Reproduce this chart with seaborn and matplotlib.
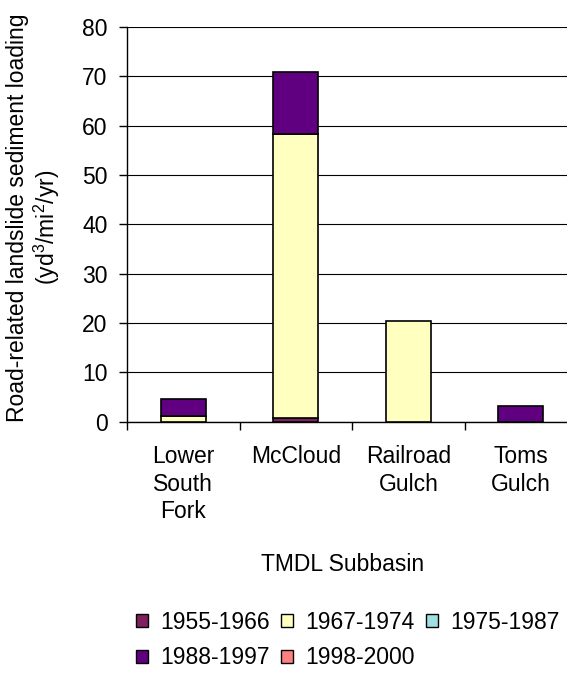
import matplotlib
matplotlib.use("Agg")
import matplotlib.pyplot as plt
from matplotlib.patches import Patch
import seaborn as sns
import pandas as pd

categories = ["Lower\nSouth\nFork", "McCloud", "Railroad\nGulch", "Toms\nGulch"]
periods = ["1955-1966", "1967-1974", "1975-1987", "1988-1997", "1998-2000"]
v_1955_1966 = [0.0, 0.7, 0.0, 0.0]
v_1967_1974 = [1.2, 57.6, 20.4, 0.0]
v_1975_1987 = [0.0, 0.0, 0.0, 0.0]
v_1988_1997 = [3.5, 12.6, 0.0, 3.2]
v_1998_2000 = [0.0, 0.0, 0.0, 0.0]
y_ticks = [0, 10, 20, 30, 40, 50, 60, 70, 80]

colors = ["#802060", "#FFFFC0", "#A0E0E0", "#600080", "#FF8080"]
series = [v_1955_1966, v_1967_1974, v_1975_1987, v_1988_1997, v_1998_2000]

FS = 16.5

sns.set_theme(style="white")
plt.rcParams["font.family"] = ["Liberation Sans", "DejaVu Sans"]
plt.rcParams["text.color"] = "black"
plt.rcParams["xtick.color"] = "black"
plt.rcParams["ytick.color"] = "black"
plt.rcParams["mathtext.fontset"] = "custom"
plt.rcParams["mathtext.rm"] = "Liberation Sans"
plt.rcParams["mathtext.it"] = "Liberation Sans"

fig = plt.figure(figsize=(5.67, 6.74), dpi=100)
ax = fig.add_axes([0.224, 0.3743, 0.794, 0.5857])

bottoms = [0.0] * len(categories)
for name, vals, col in zip(periods, series, colors):
    df = pd.DataFrame({"cat": categories, "val": vals, "bottom": bottoms})
    df = df[df["val"] > 0]
    if len(df):
        sns.barplot(data=df, x="cat", y="val", order=categories, color=col,
                    saturation=1, width=0.4, bottom=df["bottom"].values,
                    edgecolor="black", linewidth=1.2, ax=ax, zorder=3)
    bottoms = [b + v for b, v in zip(bottoms, vals)]

ax.set_ylim(0, 80)
ax.set_xlim(-0.5, 3.5)
ax.set_yticks(y_ticks)
ax.set_yticklabels([str(t) for t in y_ticks], fontsize=FS, color="black")
ax.yaxis.grid(True, color="black", linewidth=0.8)
ax.set_axisbelow(True)
for s in ["top", "right"]:
    ax.spines[s].set_visible(False)
for s in ["left", "bottom"]:
    ax.spines[s].set_color("black")
    ax.spines[s].set_linewidth(1.0)

ax.set_xticks([-0.5, 0.5, 1.5, 2.5, 3.5])
ax.set_xticklabels([])
ax.set_xticks(range(len(categories)), minor=True)
ax.set_xticklabels(categories, minor=True, fontsize=FS, linespacing=1.25, color="black")
ax.tick_params(axis="x", which="major", direction="out", length=6, width=1, color="black", bottom=True)
ax.tick_params(axis="x", which="minor", length=0, pad=17)
ax.tick_params(axis="y", direction="out", length=6, width=1, color="black", left=True, pad=8)

ax.set_xlabel("")
ax.set_ylabel("")
fig.text(0.605, 0.163, "TMDL Subbasin", ha="center", va="center", fontsize=FS)
fig.text(0.031, 0.677, "Road-related landslide sediment loading",
         rotation=90, ha="center", va="center", fontsize=FS)
fig.text(0.082, 0.662, "(yd$^3$/mi$^2$/yr)",
         rotation=90, ha="center", va="center", fontsize=FS)

handles = [Patch(facecolor=c, edgecolor="black", linewidth=1.0) for c in colors]
order = [0, 3, 1, 4, 2]
fig.legend([handles[i] for i in order], [periods[i] for i in order], ncol=3,
           loc="upper left", bbox_to_anchor=(0.24, 0.094), frameon=False,
           fontsize=FS, handlelength=0.5, handleheight=0.5, handletextpad=0.55,
           columnspacing=0.5, labelspacing=0.55, borderpad=0, borderaxespad=0)

fig.savefig("out.png", dpi=100)
